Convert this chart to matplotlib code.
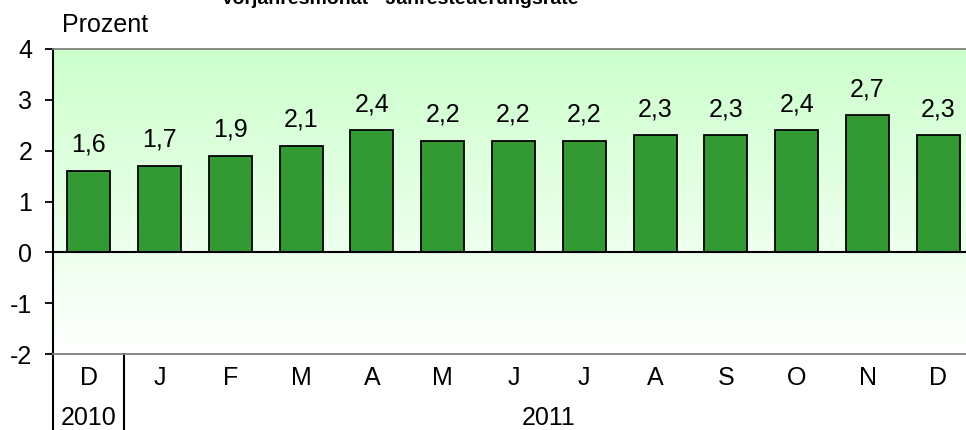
import matplotlib.pyplot as plt
import numpy as np
from matplotlib.colors import LinearSegmentedColormap

plt.rcParams['font.family'] = ['Liberation Sans', 'DejaVu Sans']

months = ["D", "J", "F", "M", "A", "M", "J", "J", "A", "S", "O", "N", "D"]
values = [1.6, 1.7, 1.9, 2.1, 2.4, 2.2, 2.2, 2.2, 2.3, 2.3, 2.4, 2.7, 2.3]
years = ["2010", "2011"]
year_spans = [(0, 0), (1, 12)]
yticks = [-2, -1, 0, 1, 2, 3, 4]

title = "Vorjahresmonat - Jahresteuerungsrate"
ylabel = "Prozent"

FS = 18
W, H = 966, 430
fig = plt.figure(figsize=(W / 100, H / 100), dpi=100)
ax = fig.add_axes([53.3 / W, 76 / H, 920.4 / W, 305 / H])

x = np.arange(len(months))
ax.set_xlim(-0.5, len(months) - 0.5)
ax.set_ylim(-2, 4)

# background gradient, light green on top fading to white
grad = LinearSegmentedColormap.from_list("bg", ["#ffffff", "#ccffcc"])
ax.imshow(np.linspace(0, 1, 256).reshape(-1, 1), cmap=grad, aspect="auto",
          extent=(-0.5, len(months) - 0.5, -2, 4), origin="lower", zorder=0)

ax.bar(x, values, width=0.61, color="#339933", edgecolor="black",
       linewidth=1.3, zorder=2)
ax.axhline(0, color="black", lw=1.5, zorder=3)

for xi, v in zip(x, values):
    ax.annotate(f"{v:.1f}".replace(".", ","), (xi, v), xytext=(0, 13.7),
                textcoords="offset points", ha="center", va="baseline",
                fontsize=FS)

for s in ["top", "bottom", "right"]:
    ax.spines[s].set_color("#808080")
    ax.spines[s].set_linewidth(1.3)
ax.spines["left"].set_color("black")
ax.spines["left"].set_linewidth(1.5)

ax.set_yticks(yticks)
ax.set_yticklabels([str(t) for t in yticks], fontsize=FS)
ax.tick_params(axis="y", length=6, width=1.3, pad=9)
ax.set_xticks([])

# category labels below the plot
trans = ax.get_xaxis_transform()
for xi, m in zip(x, months):
    ax.text(xi, -24 / 305, m, transform=trans, ha="center", va="center",
            fontsize=FS, clip_on=False)
for (a, b), yr in zip(year_spans, years):
    ax.text((a + b) / 2, -64 / 305, yr, transform=trans, ha="center",
            va="center", fontsize=FS, clip_on=False)

# separator lines under the axis
ax.plot([-0.5, -0.5], [0, -80 / 305], transform=trans, color="black",
        lw=1.5, clip_on=False)
ax.plot([0.5, 0.5], [0, -80 / 305], transform=trans, color="black",
        lw=1.5, clip_on=False)

fig.text(62 / W, 1 - 25 / H, ylabel, fontsize=FS, ha="left", va="center")
fig.text(400 / W, 1 - 4 / H, title, fontsize=14, fontweight="bold",
         ha="center", va="baseline")

fig.savefig("out.png", dpi=100)
